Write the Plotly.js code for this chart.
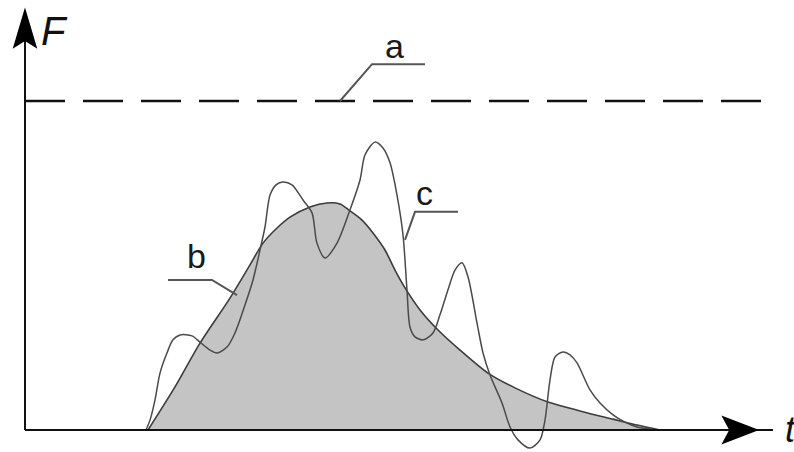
<!DOCTYPE html>
<html>
<head>
<meta charset="utf-8">
<script src="https://cdn.plot.ly/plotly-3.0.1.min.js"></script>
<style>
  html, body { margin: 0; padding: 0; background: #fff; }
  #chart { width: 794px; height: 452px; }
</style>
</head>
<body>
<div id="chart"></div>
<script>
// Constant level a
const aT = [0, 10];
const aF = [1, 1];

// Smooth pulse b (shaded)
const bT = [1.640, 2.000, 2.333, 2.733, 3.000, 3.173, 3.360, 3.533, 3.800, 4.027, 4.200, 4.333,
            4.493, 4.640, 4.800, 4.933, 5.067, 5.267, 5.507, 5.800, 6.173, 6.533, 6.973, 7.400,
            7.840, 8.160, 8.467];
const bF = [0.000, 0.131, 0.264, 0.401, 0.502, 0.568, 0.614, 0.647, 0.678, 0.690, 0.687, 0.666,
            0.638, 0.599, 0.547, 0.486, 0.432, 0.365, 0.304, 0.243, 0.173, 0.128, 0.085, 0.058,
            0.033, 0.015, 0.000];

// Oscillating response c
const cT = [1.613, 1.667, 1.733, 1.800, 1.893, 1.973, 2.067, 2.227, 2.333, 2.467, 2.560, 2.693,
            2.800, 2.933, 3.040, 3.133, 3.200, 3.267, 3.347, 3.440, 3.560, 3.707, 3.827, 3.893,
            4.000, 4.160, 4.333, 4.467, 4.533, 4.667, 4.773, 4.867, 4.960, 5.040, 5.093, 5.133,
            5.200, 5.307, 5.440, 5.533, 5.640, 5.733, 5.827, 5.907, 6.027, 6.107, 6.200, 6.360,
            6.467, 6.573, 6.733, 6.867, 6.933, 7.000, 7.067, 7.173, 7.267, 7.360, 7.533, 7.667,
            7.840, 8.000, 8.160, 8.400];
const cF = [0.000, 0.030, 0.091, 0.173, 0.234, 0.274, 0.289, 0.286, 0.267, 0.243, 0.234, 0.252,
            0.295, 0.380, 0.456, 0.547, 0.617, 0.714, 0.745, 0.754, 0.745, 0.699, 0.660, 0.568,
            0.523, 0.568, 0.669, 0.760, 0.836, 0.875, 0.857, 0.812, 0.714, 0.593, 0.426, 0.313,
            0.283, 0.274, 0.295, 0.350, 0.426, 0.486, 0.508, 0.465, 0.325, 0.234, 0.167, 0.082,
            0.009, -0.030, -0.055, -0.030, 0.030, 0.152, 0.222, 0.237, 0.228, 0.204, 0.122, 0.082,
            0.046, 0.024, 0.009, 0.000];

// Curve labels and axis names
const curveLabels = ['a', 'b', 'c'];
const axisNames = ['F', 't'];

const traces = [
  {
    x: bT, y: bF, type: 'scatter', mode: 'lines',
    line: { color: '#3c3c3c', width: 1.6, shape: 'spline', smoothing: 0.8 },
    fill: 'tozeroy', fillcolor: '#c4c4c4', hoverinfo: 'skip'
  },
  {
    x: cT, y: cF, type: 'scatter', mode: 'lines',
    line: { color: '#4a4a4a', width: 1.5, shape: 'spline', smoothing: 0.8 },
    hoverinfo: 'skip'
  },
  {
    x: aT, y: aF, type: 'scatter', mode: 'lines',
    line: { color: '#111', width: 2.5, dash: '40px,18px' },
    hoverinfo: 'skip'
  }
];

const leader = { color: '#555', width: 2 };
const axisLine = { color: '#111', width: 2 };
const labelFont = { family: 'Liberation Sans, Arial, sans-serif', size: 34, color: '#1a1a1a' };

const layout = {
  width: 794, height: 452,
  margin: { l: 0, r: 0, t: 0, b: 0 },
  paper_bgcolor: '#fff', plot_bgcolor: '#fff',
  showlegend: false,
  xaxis: { visible: false, range: [-0.3333, 10.2533], fixedrange: true },
  yaxis: { visible: false, range: [-0.0669, 1.3070], fixedrange: true },
  shapes: [
    // axes
    { type: 'line', xref: 'x', yref: 'y', x0: 0, y0: 0, x1: 9.973, y1: 0, line: axisLine, layer: 'above' },
    { type: 'line', xref: 'x', yref: 'y', x0: 0, y0: 0, x1: 0, y1: 1.2705, line: axisLine, layer: 'above' },
    // arrowheads
    { type: 'path', xref: 'x', yref: 'y', xsizemode: 'pixel', ysizemode: 'pixel',
      xanchor: 0, yanchor: 1.2705,
      path: 'M0,2 L-11,-35 L0,-28 L11,-35 Z',
      fillcolor: '#000', line: { color: '#000', width: 1.5 }, layer: 'above' },
    { type: 'path', xref: 'x', yref: 'y', xsizemode: 'pixel', ysizemode: 'pixel',
      xanchor: 9.76, yanchor: 0,
      path: 'M0,0 L-34,13 L-27,0 L-34,-13 Z',
      fillcolor: '#000', line: { color: '#000', width: 1.5 }, layer: 'above' },
    // leader for a
    { type: 'path', xref: 'x', yref: 'y', path: 'M4.2,1 L4.627,1.112 L5.333,1.112', line: leader },
    // leader for b
    { type: 'path', xref: 'x', yref: 'y', path: 'M2.827,0.410 L2.493,0.456 L1.907,0.456', line: leader },
    // leader for c
    { type: 'path', xref: 'x', yref: 'y', path: 'M5.067,0.578 L5.2,0.663 L5.773,0.663', line: leader }
  ],
  annotations: [
    { x: 4.933, y: 1.167, xref: 'x', yref: 'y', text: curveLabels[0], showarrow: false, font: labelFont },
    { x: 2.28, y: 0.529, xref: 'x', yref: 'y', text: curveLabels[1], showarrow: false, font: labelFont },
    { x: 5.333, y: 0.720, xref: 'x', yref: 'y', text: curveLabels[2], showarrow: false, font: labelFont },
    { x: 0.19, y: 1.2860, xref: 'x', yref: 'y', xanchor: 'left', yanchor: 'top',
      text: '<i>' + axisNames[0] + '</i>', showarrow: false,
      font: { family: 'Liberation Sans, Arial, sans-serif', size: 40, color: '#111' } },
    { x: 10.107, y: 0, xref: 'x', yref: 'y', xanchor: 'left', yanchor: 'middle',
      text: '<i>' + axisNames[1] + '</i>', showarrow: false,
      font: { family: 'Liberation Sans, Arial, sans-serif', size: 36, color: '#111' } }
  ]
};

Plotly.newPlot('chart', traces, layout, { displayModeBar: false, staticPlot: true });
</script>
</body>
</html>
